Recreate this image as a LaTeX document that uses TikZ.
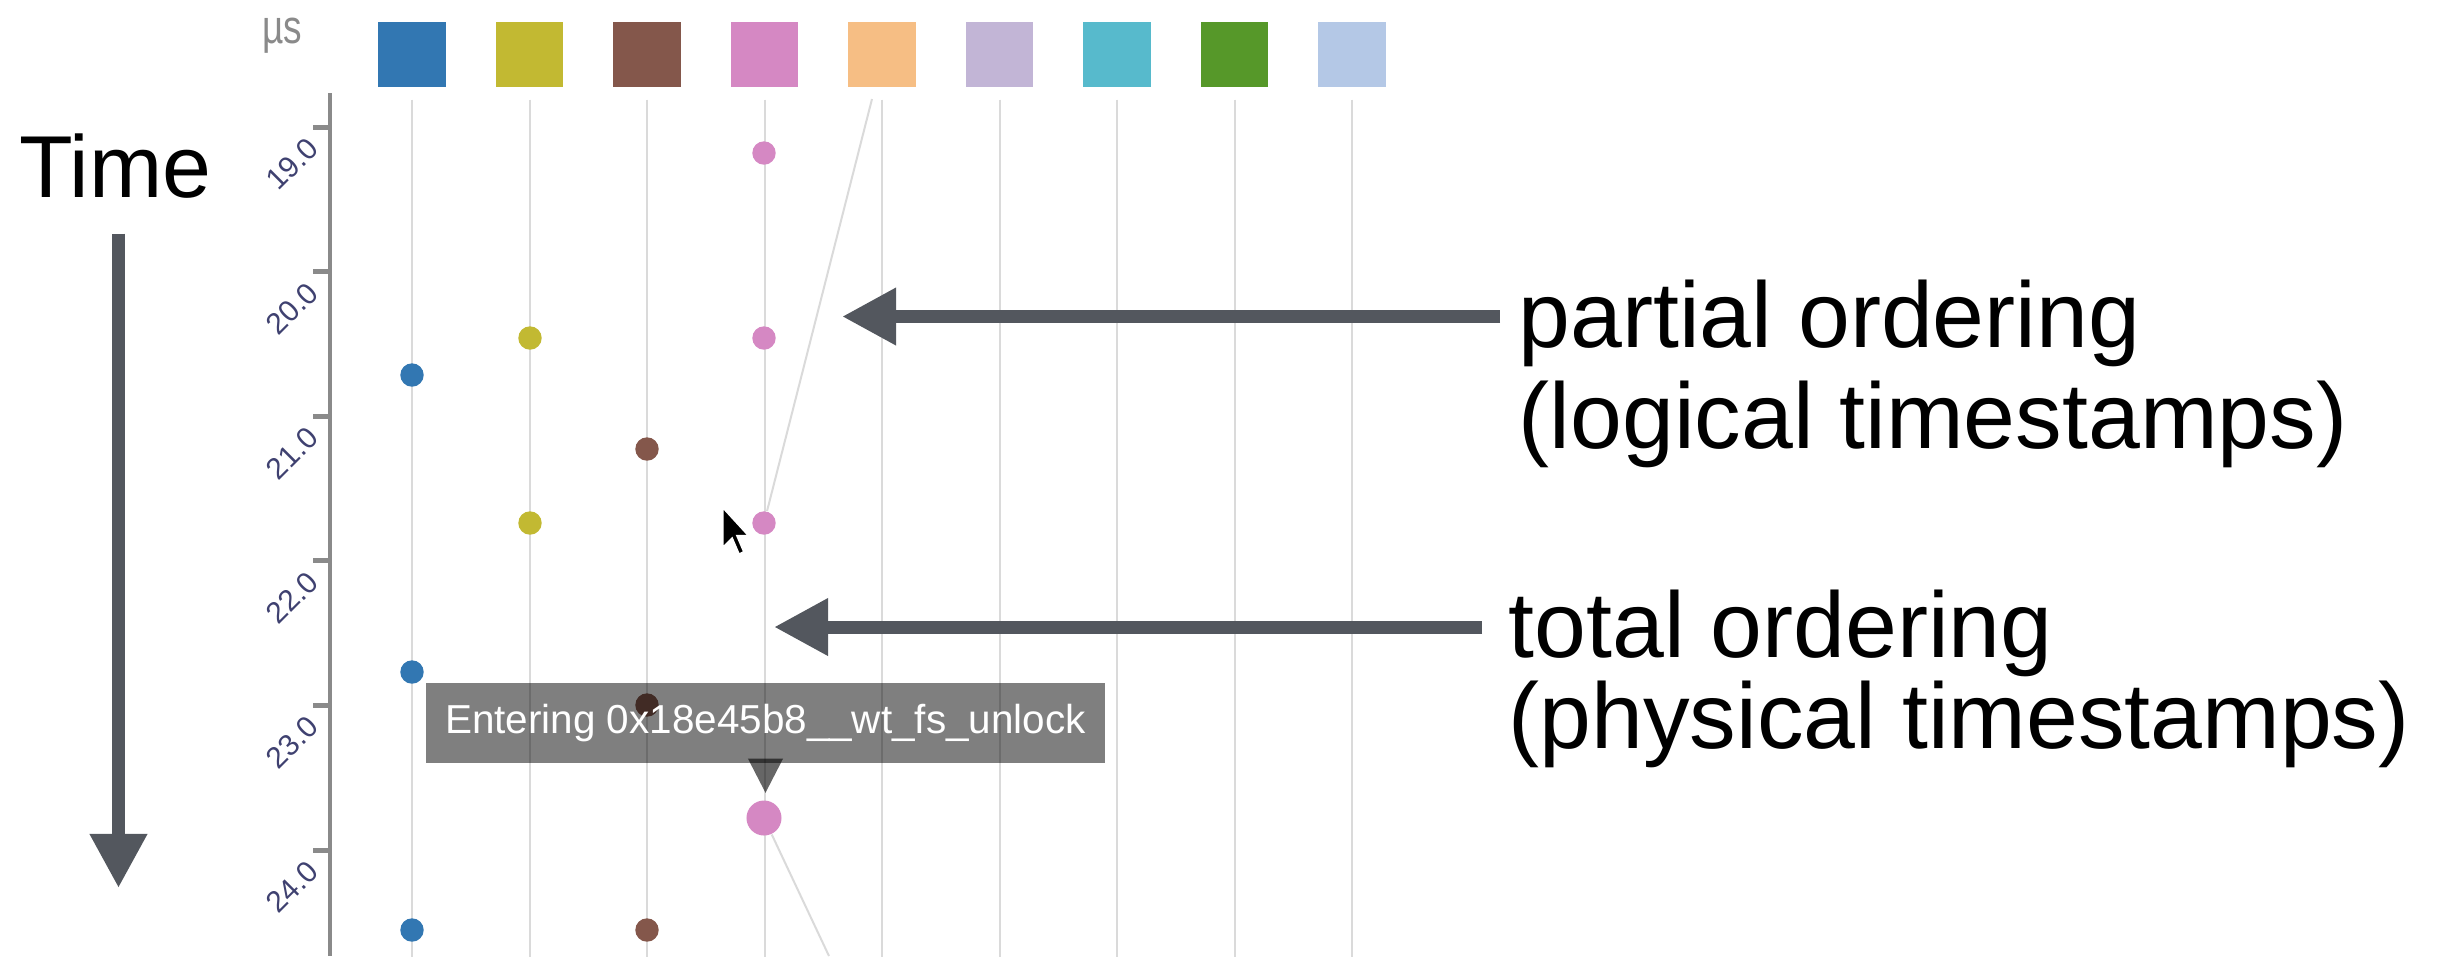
\documentclass[tikz,border=0pt]{standalone}
\usepackage{fontspec}
\setmainfont{Liberation Sans}
\usepackage{xcolor}
\usepackage{tikz}
\usetikzlibrary{arrows.meta, positioning}

\definecolor{tblue}{HTML}{3277B2}
\definecolor{tolive}{HTML}{C2B932}
\definecolor{tbrown}{HTML}{84574B}
\definecolor{tpink}{HTML}{D588C3}
\definecolor{torange}{HTML}{F6BE84}
\definecolor{tlav}{HTML}{C2B5D6}
\definecolor{tcyan}{HTML}{57BACC}
\definecolor{tgreen}{HTML}{569829}
\definecolor{tsky}{HTML}{B4C8E6}
\definecolor{arrowgray}{HTML}{53575E}
\definecolor{lanegray}{HTML}{DADADA}
\definecolor{axisgray}{HTML}{8A8A8A}
\definecolor{ticktext}{HTML}{3F4170}

\begin{document}
\begin{tikzpicture}[
    x=0.01cm, y=-0.01cm,
    swatch/.style={rectangle, inner sep=0, minimum width=6.7mm, minimum height=6.5mm},
    lane/.style={draw=lanegray, line width=0.2mm},
    dot/.style={circle, inner sep=0, minimum size=2.34mm},
    bigdot/.style={circle, inner sep=0, minimum size=3.5mm},
    axisline/.style={draw=axisgray, line width=0.4mm},
    axistick/.style={draw=axisgray, line width=0.5mm},
    ticklbl/.style={font=\fontsize{8.5}{9}\selectfont, text=ticktext, rotate=45, inner sep=0},
    pointer/.style={draw=arrowgray, line width=1.3mm, -{Triangle[length=5.4mm, width=5.4mm]}},
    note/.style={font=\fontsize{26.5}{28}\selectfont, inner ysep=0, anchor=base west},
    tooltip/.style={fill=black, fill opacity=0.5, text opacity=1, text=white, minimum width=6.79cm, minimum height=0.8cm, font=\fontsize{11.5}{12}\selectfont}
]
\useasboundingbox (0,0) rectangle (2447,956);

\node[font=\fontsize{25}{25}\selectfont, inner sep=0, anchor=base] (time) at (115.5,197) {Time};
\coordinate (timeend) at (118.5,888);
\draw[pointer, shorten <=3.5mm] (timeend |- time.south) -- (timeend);

\node[font=\fontsize{13.5}{14}\selectfont, text=axisgray, xscale=0.78, inner sep=0, anchor=base] (unit) at (282.5,43) {µs};

\draw[axisline] (330,93) -- (330,956);
\foreach \t [count=\k from 0] in {19.0,20.0,21.0,22.0,23.0,24.0} {
  \draw[axistick] (313,127+144.6*\k) -- (330,127+144.6*\k);
  \node[ticklbl] (lbl\k) at (292,164+144.6*\k) {\t};
}

\foreach \c [count=\i from 0] in {tblue,tolive,tbrown,tpink,torange,tlav,tcyan,tgreen,tsky} {
  \node[swatch, fill=\c] (sw\i) at (412+117.5*\i,54.5) {};
  \draw[lane] ([yshift=-1.2mm]sw\i.south) -- ++(0,857);
}

\node[dot, fill=tpink] (pk1) at (764,153) {};
\node[dot, fill=tolive] (ol1) at (530,338) {};
\node[dot, fill=tpink] (pk2) at (764,338) {};
\node[dot, fill=tblue] (bl1) at (412,375) {};
\node[dot, fill=tbrown] (br1) at (647,449) {};
\node[dot, fill=tolive] (ol2) at (530,523) {};
\node[dot, fill=tpink] (pk3) at (764,523) {};
\node[dot, fill=tblue] (bl2) at (412,672) {};
\node[dot, fill=tbrown] (br2) at (647,705) {};
\node[dot, fill=tblue] (bl3) at (412,930) {};
\node[dot, fill=tbrown] (br3) at (647,930) {};
\node[bigdot, fill=tpink] (pk4) at (764,818) {};

\coordinate (sendtop) at (872,99);
\coordinate (sendbot) at (829,956);
\draw[lane] (pk3) -- (sendtop);
\draw[lane] (pk4) -- (sendbot);

\node[tooltip] (tip) at (765.5,723) {Entering 0x18e45b8\_\_wt\_fs\_unlock};
\fill[black, fill opacity=0.6] ([xshift=-1.75mm,yshift=0.5mm]tip.south) -- ([xshift=1.75mm,yshift=0.5mm]tip.south) -- ([yshift=-2.9mm]tip.south) -- cycle;

\filldraw[fill=black, draw=white, line width=0.4pt] (723,508) -- (723,547) -- (732.2,537.9) -- (739.1,554) -- (743.7,551.7) -- (736.8,535.6) -- (748.3,535.6) -- cycle;

\coordinate (parttip) at (842,316.5);
\node[note, inner xsep=1.8mm] (part1) at (1500,347) {partial ordering};
\node[note, inner xsep=1.8mm] (part2) at ([yshift=-1.01cm]part1.base west) {(logical timestamps)};
\draw[pointer] (part1.west |- parttip) -- (parttip);

\coordinate (tottip) at (774,627);
\node[note, inner xsep=2.6mm] (tot1) at (1482,657.5) {total ordering};
\node[note, inner xsep=2.6mm] (tot2) at ([yshift=-0.905cm]tot1.base west) {(physical timestamps)};
\draw[pointer] (tot1.west |- tottip) -- (tottip);

\end{tikzpicture}
\end{document}
